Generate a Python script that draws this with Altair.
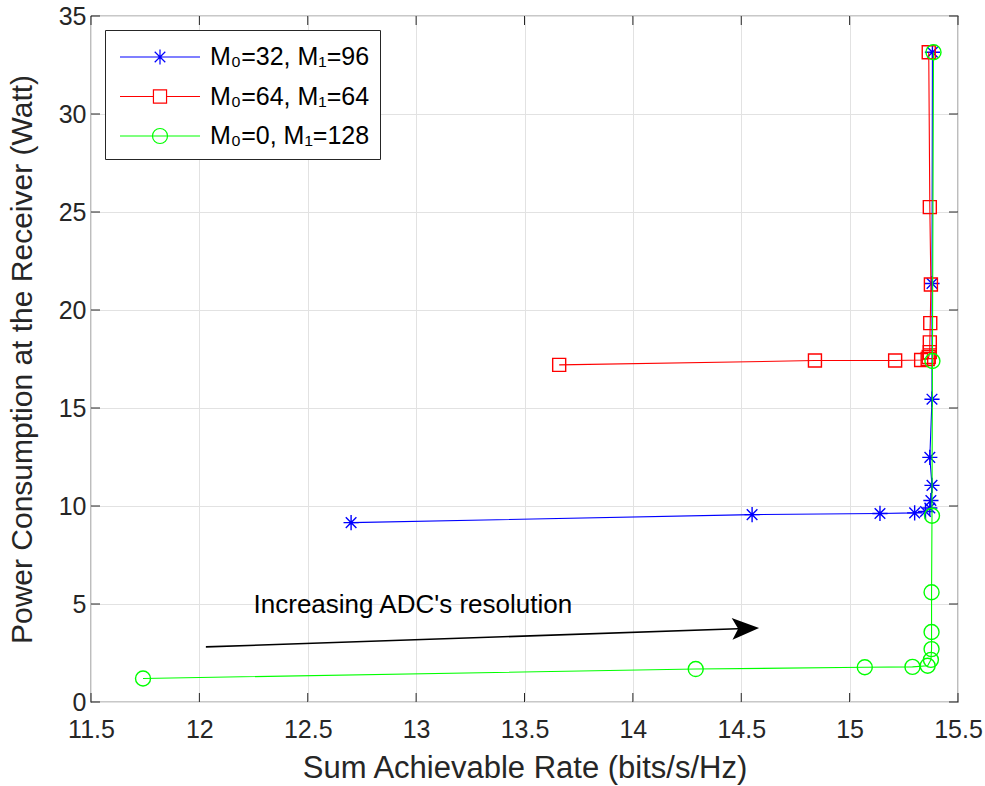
import altair as alt
import pandas as pd

# ---------------- data ----------------
series_labels = ["M₀=32, M₁=96", "M₀=64, M₁=64", "M₀=0, M₁=128"]
series_colors = ["#0000ff", "#ff0000", "#00ff00"]

blue_x = [12.70, 14.55, 15.14, 15.30, 15.35, 15.37, 15.375, 15.38, 15.37, 15.38, 15.38, 15.382]
blue_y = [9.15, 9.56, 9.62, 9.65, 9.72, 9.90, 10.28, 11.05, 12.48, 15.45, 21.35, 33.15]

red_x = [13.66, 14.84, 15.21, 15.33, 15.36, 15.365, 15.37, 15.37, 15.372, 15.375, 15.37, 15.365]
red_y = [17.20, 17.42, 17.42, 17.45, 17.50, 17.60, 17.85, 18.35, 19.33, 21.30, 25.25, 33.15]

green_x = [11.74, 14.29, 15.07, 15.29, 15.36, 15.375, 15.378, 15.378, 15.378, 15.38, 15.382, 15.387]
green_y = [1.20, 1.68, 1.77, 1.79, 1.85, 2.15, 2.70, 3.57, 5.60, 9.50, 17.40, 33.15]

x_ticks = [11.5, 12, 12.5, 13, 13.5, 14, 14.5, 15, 15.5]
y_ticks = [0, 5, 10, 15, 20, 25, 30, 35]

x_title = "Sum Achievable Rate (bits/s/Hz)"
y_title = "Power Consumption at the Receiver (Watt)"

note_text = "Increasing ADC's resolution"
note_xy = [12.25, 4.54]
arrow_x = [12.03, 14.55]
arrow_y = [2.81, 3.76]
arrow_head_xy = [14.52, 3.755]

# ---------------- styles ----------------
W, H = 867, 686
FONT = "Liberation Sans"
AX = "#262626"
STAR = "M-1,0H1M0,-1V1M-0.7,-0.7L0.7,0.7M-0.7,0.7L0.7,-0.7"
marker_shapes = [STAR, "square", "circle"]
marker_sizes = [230, 169, 225]
LEG_STAR = "M-2.5,0H2.5M0,-0.47V0.47M-0.33,-0.33L0.33,0.33M-0.33,0.33L0.33,-0.33"
LEG_SQ = "M-2.5,0H-0.41M0.41,0H2.5M-0.41,-0.41H0.41V0.41H-0.41Z"
LEG_CI = ("M-2.5,0H2.5M0.47,0C0.47,0.26,0.26,0.47,0,0.47C-0.26,0.47,-0.47,0.26,-0.47,0"
          "C-0.47,-0.26,-0.26,-0.47,0,-0.47C0.26,-0.47,0.47,-0.26,0.47,0Z")
legend_shapes = [LEG_STAR, LEG_SQ, LEG_CI]

xs = [blue_x, red_x, green_x]
ys = [blue_y, red_y, green_y]
rows = []
for lab, sx, sy in zip(series_labels, xs, ys):
    for i, (a, b) in enumerate(zip(sx, sy)):
        rows.append({"series": lab, "idx": i, "rate": a, "power": b})
df = pd.DataFrame(rows)

xscale = alt.Scale(domain=[11.5, 15.5], nice=False, zero=False)
yscale = alt.Scale(domain=[0, 35], nice=False, zero=False)

X = alt.X("rate:Q", scale=xscale,
          axis=alt.Axis(values=x_ticks, format="~g", title=x_title, grid=True,
                        ticks=False, domain=False, labelPadding=15, titlePadding=11,
                        labelFlush=False, titleFontSize=31))
Y = alt.Y("power:Q", scale=yscale,
          axis=alt.Axis(values=y_ticks, format="~g", title=y_title, grid=True,
                        ticks=False, domain=False, labelPadding=5, titlePadding=21,
                        labelFlush=False))

layers = []
for lab, col, shp, sz in zip(series_labels, series_colors, marker_shapes, marker_sizes):
    sub = df[df.series == lab]
    base = alt.Chart(sub)
    layers.append(base.mark_line(color=col, strokeWidth=1.1).encode(x=X, y=Y, order="idx:Q"))
    layers.append(base.mark_point(shape=shp, size=sz, color=col, filled=False,
                                  strokeWidth=1.4, opacity=1).encode(x=X, y=Y))

leg = alt.Legend(orient="none", legendX=14, legendY=14, title=None,
                 symbolSize=1024, symbolStrokeWidth=1.2, symbolOffset=28,
                 labelOffset=33, rowPadding=9.5, padding=10,
                 strokeColor=AX, fillColor="white", labelFontSize=25,
                 labelFont=FONT, labelColor="black", labelLimit=0,
                 symbolOpacity=1)
legend_layer = alt.Chart(df).mark_point(filled=False, opacity=0).encode(
    x=X, y=Y,
    color=alt.Color("series:N", scale=alt.Scale(domain=series_labels, range=series_colors),
                    sort=series_labels, legend=leg),
    shape=alt.Shape("series:N", scale=alt.Scale(domain=series_labels, range=legend_shapes),
                    sort=series_labels, legend=leg),
)
layers.append(legend_layer)

# inward ticks on all four sides
xt = pd.DataFrame({"t": x_ticks})
yt = pd.DataFrame({"t": y_ticks})
tick_x = alt.X("t:Q", scale=xscale)
tick_y = alt.Y("t:Q", scale=yscale)
layers += [
    alt.Chart(xt).mark_rule(color=AX, strokeWidth=1).encode(x=tick_x, y=alt.value(H), y2=alt.value(H - 9)),
    alt.Chart(xt).mark_rule(color=AX, strokeWidth=1).encode(x=tick_x, y=alt.value(0), y2=alt.value(9)),
    alt.Chart(yt).mark_rule(color=AX, strokeWidth=1).encode(y=tick_y, x=alt.value(0), x2=alt.value(9)),
    alt.Chart(yt).mark_rule(color=AX, strokeWidth=1).encode(y=tick_y, x=alt.value(W), x2=alt.value(W - 9)),
]

# annotation: arrow + text
arr = pd.DataFrame({"x1": [arrow_x[0]], "x2": [arrow_x[1]], "y1": [arrow_y[0]], "y2": [arrow_y[1]]})
layers.append(alt.Chart(arr).mark_rule(color="black", strokeWidth=1.6).encode(
    x=alt.X("x1:Q", scale=xscale), x2="x2:Q",
    y=alt.Y("y1:Q", scale=yscale), y2="y2:Q"))
head = pd.DataFrame({"x": [arrow_head_xy[0]], "y": [arrow_head_xy[1]]})
layers.append(alt.Chart(head).mark_point(
    shape="M1,0L-1,-0.8L-0.55,0L-1,0.8Z", size=729, filled=True, color="black",
    opacity=1, angle=357.9).encode(x=alt.X("x:Q", scale=xscale), y=alt.Y("y:Q", scale=yscale)))
note = pd.DataFrame({"x": [note_xy[0]], "y": [note_xy[1]], "t": [note_text]})
layers.append(alt.Chart(note).mark_text(align="left", baseline="alphabetic", fontSize=26,
                                        font=FONT, color="black").encode(
    x=alt.X("x:Q", scale=xscale), y=alt.Y("y:Q", scale=yscale), text="t:N"))

chart = alt.layer(*layers).properties(
    width=W, height=H,
    background="white",
    padding={"left": 91, "top": 16, "right": 27, "bottom": 84},
    autosize=alt.AutoSizeParams(type="none"),
).configure_view(stroke=AX, strokeWidth=1.2).configure_axis(
    labelFont=FONT, titleFont=FONT, labelFontSize=25, titleFontSize=30,
    labelColor=AX, titleColor=AX, titleFontWeight="normal",
    gridColor="#e2e2e2", gridWidth=1,
)

chart.save("out.html", embed_options={"renderer": "svg", "actions": False})
